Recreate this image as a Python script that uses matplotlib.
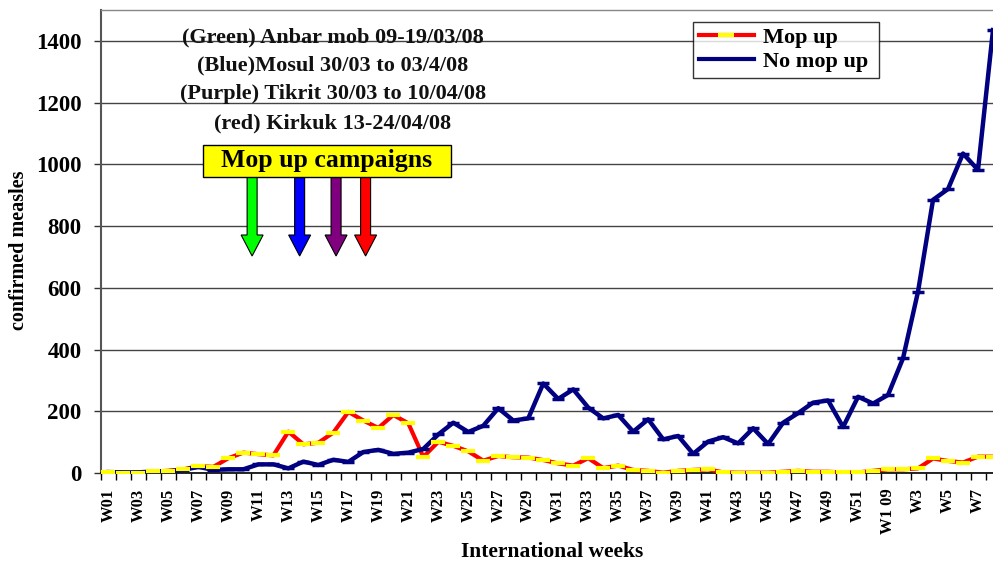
import numpy as np
import matplotlib
matplotlib.use("Agg")
import matplotlib.pyplot as plt
from matplotlib.lines import Line2D
from matplotlib.patches import Polygon, Rectangle
import matplotlib.transforms as mtransforms

# ---------------- data ----------------
weeks = ([f"W{i:02d}" for i in range(1, 53)] +
         ["W1 09", "W2", "W3", "W4", "W5", "W6", "W7", "W8"])

mop_up = [3, 0, 1, 5, 7, 12, 22, 20, 48, 66,
          61, 57, 134, 93, 98, 131, 198, 170, 146, 188,
          161, 52, 101, 88, 70, 40, 55, 51, 50, 42,
          31, 24, 48, 16, 24, 10, 7, 1, 7, 10,
          12, 2, 1, 1, 1, 4, 7, 4, 4, 2,
          2, 7,
          12, 12, 15, 47, 39, 34, 53, 53]

no_mop_up = [3, 2, 2, 5, 6, 10, 20, 10, 12, 12,
             28, 28, 15, 37, 26, 43, 36, 68, 75, 62,
             66, 78, 125, 163, 133, 153, 210, 170, 177, 290,
             240, 271, 212, 177, 188, 134, 174, 109, 120, 62,
             102, 116, 96, 145, 94, 163, 194, 228, 235, 149,
             247, 225,
             253, 372, 588, 885, 920, 1035, 982, 1435]

yticks = [0, 200, 400, 600, 800, 1000, 1200, 1400]

campaign_lines = ["(Green) Anbar mob 09-19/03/08",
                  "(Blue)Mosul 30/03 to 03/4/08",
                  "(Purple) Tikrit 30/03 to 10/04/08",
                  "(red) Kirkuk 13-24/04/08"]
# arrow positions (in week-index units) and colours
arrow_pos = [9.58, 12.75, 15.18, 17.15]
arrow_cols = ["#00FF00", "#0000FF", "#800080", "#FF0000"]

# ---------------- figure ----------------
plt.rcParams['font.family'] = ['Liberation Serif', 'DejaVu Serif']
plt.rcParams['font.weight'] = 'bold'

W, H = 993, 566
fig = plt.figure(figsize=(W / 100, H / 100), dpi=100)
left_px, right_px, top_px, bot_px = 101, 1000.5, 10, 473
ax = fig.add_axes([left_px / W, (H - bot_px) / H,
                   (right_px - left_px) / W, (bot_px - top_px) / H])

x = np.arange(len(weeks))
ax.plot(x, mop_up, color='#FF0000', lw=3, zorder=3, solid_capstyle='butt')
ax.plot(x, no_mop_up, color='#000080', lw=3.2, zorder=4)
ax.plot(x, no_mop_up, ls='none', marker='_', ms=8, mew=2.5,
        color='#000080', zorder=5)
ax.plot(x, mop_up, ls='none', marker='_', ms=10, mew=3,
        color='#FFFF00', zorder=6)

ax.set_xlim(-0.5, len(weeks) - 0.5)
ax.set_ylim(0, 1500)
ax.set_yticks(yticks)
ax.set_yticklabels([str(v) for v in yticks], fontsize=16.5, fontweight='bold')
ax.tick_params(axis='y', length=5, width=1, pad=9, color='#333333')
ax.yaxis.grid(True, color='#444444', lw=1)
ax.set_axisbelow(True)

ax.set_xticks(x[::2])
lbls = [weeks[i] for i in range(0, len(weeks), 2)]
ax.set_xticklabels(lbls, rotation=90, fontsize=12, fontweight='bold')
ax.set_xticks(np.arange(-0.5, len(weeks), 1), minor=True)
ax.tick_params(axis='x', which='major', length=0, pad=11)
ax.tick_params(axis='x', which='minor', length=5, width=1, color='black')

ax.spines['left'].set_color('#555555')
ax.spines['left'].set_linewidth(1.5)
ax.spines['bottom'].set_color('black')
ax.spines['bottom'].set_linewidth(1.2)
ax.spines['top'].set_color('#888888')
ax.spines['top'].set_linewidth(1)
ax.spines['right'].set_visible(False)

# axis labels
def fx(px):
    return px / W

def fy(py):
    return 1 - py / H

fig.text(fx(19), fy(250), "confirmed measles", rotation=90, fontsize=14.5,
         fontweight='bold', ha='center', va='center')
fig.text(fx(552), fy(552), "International weeks", fontsize=15.5,
         fontweight='bold', ha='center', va='center')

# campaign text
for k, t in enumerate(campaign_lines):
    fig.text(fx(333), fy(37 + 28.7 * k), t, fontsize=16, fontweight='bold',
             ha='center', va='center', color='#111111', zorder=10)

# "Mop up campaigns" box
box = Rectangle((fx(203), fy(177)), fx(451) - fx(203), fy(145) - fy(177),
                transform=fig.transFigure, facecolor='#FFFF00',
                edgecolor='black', lw=1, zorder=10)
fig.patches.append(box)
fig.text(fx(327), fy(161), "Mop up campaigns", fontsize=18.5,
         fontweight='bold', ha='center', va='center', zorder=11)

# arrows: x in data units, y in axes fraction
trans = mtransforms.blended_transform_factory(ax.transData, ax.transAxes)
ay = lambda py: (bot_px - py) / (bot_px - top_px)
shaft_half = 5 / 15.0
head_half = 11 / 15.0
for xp, c in zip(arrow_pos, arrow_cols):
    pts = [(xp - shaft_half, ay(177)), (xp + shaft_half, ay(177)),
           (xp + shaft_half, ay(235)), (xp + head_half, ay(235)),
           (xp, ay(256)), (xp - head_half, ay(235)),
           (xp - shaft_half, ay(235))]
    ax.add_patch(Polygon(pts, closed=True, transform=trans, facecolor=c,
                         edgecolor='black', lw=0.8, zorder=8, clip_on=False))

# legend
handles = [Line2D([], [], color='#FF0000', lw=3, marker='_', ms=12, mew=3,
                  markeredgecolor='#FFFF00'),
           Line2D([], [], color='#000080', lw=3)]
leg = ax.legend(handles, ["Mop up", "No mop up "], loc='upper left',
                bbox_to_anchor=(fx(693), fy(22)), bbox_transform=fig.transFigure,
                borderaxespad=0, frameon=True, fancybox=False,
                prop={'family': 'Liberation Serif', 'weight': 'bold', 'size': 16},
                handlelength=2.5, handletextpad=0.4, borderpad=0.25,
                labelspacing=0.15)
leg.get_frame().set_edgecolor('black')
leg.get_frame().set_linewidth(1)
leg.get_frame().set_facecolor('white')
leg.set_zorder(12)

fig.savefig("out.png", dpi=100)
